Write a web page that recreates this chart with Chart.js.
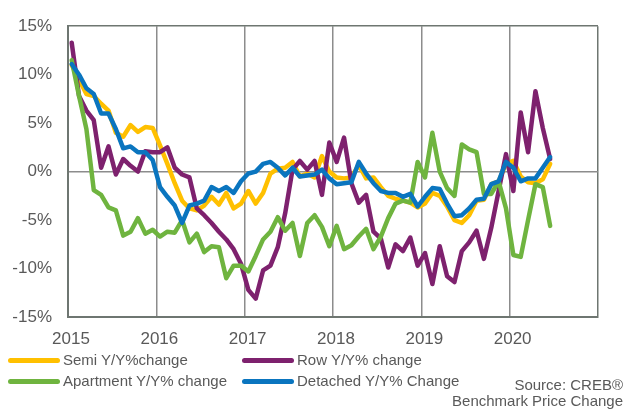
<!DOCTYPE html>
<html>
<head>
<meta charset="utf-8">
<script src="https://cdn.jsdelivr.net/npm/chart.js@4.4.1/dist/chart.umd.min.js"></script>
<style>
  body { margin: 0; background: #fff; }
  #wrap { position: relative; width: 627px; height: 411px; font-family: "Liberation Sans", Arial, sans-serif; color: #595959; }
  #wrap canvas { position: absolute; left: 0; top: 0; }
  .key { position: absolute; font-size: 15px; line-height: 18px; white-space: nowrap; }
  .key i { position: absolute; left: -55px; top: 7px; width: 52px; height: 5px; border-radius: 3px; }
  .source { position: absolute; right: 4px; top: 377px; font-size: 15px; line-height: 16px; text-align: right; }
</style>
</head>
<body>
<div id="wrap">
  <canvas id="chart" width="627" height="411"></canvas>
  <div id="legend"></div>
  <div class="source">Source: CREB®<br>Benchmark Price Change</div>
</div>
<script>
// monthly Y/Y % change, Jan 2015 .. Jun 2020
const yearLabels = ['2015', '2016', '2017', '2018', '2019', '2020']

const semi = [
  11.0, 9.5, 8.0, 7.8, 7.0, 6.3, 4.0, 3.6, 4.8, 4.1, 4.6, 4.5,
  2.7, 0.8, -1.2, -3.0, -3.8, -4.0, -3.5, -2.6, -3.4, -2.2, -3.8, -3.3,
  -2.0, -3.3, -2.2, -0.2, 0.3, 0.4, 1.0, -0.5, -0.2, -0.6, 1.6, 0.0,
  -0.6, -0.7, -0.6, 0.7, -0.7, -0.6, -1.6, -2.5, -2.8, -3.0, -3.2, -3.7,
  -3.3, -2.2, -2.5, -3.6, -5.0, -5.3, -4.5, -3.0, -2.9, -1.3, -1.0, 0.8,
  1.1, -0.5, -1.1, -1.2, -0.8, 0.8
]

const row = [
  13.3, 7.8, 6.3, 5.3, 0.4, 2.6, -0.3, 1.3, 0.6, 0.0, 2.1, 2.0,
  2.0, 2.5, 0.4, -0.3, -0.6, -3.8, -4.5, -5.3, -6.2, -7.0, -8.0, -9.5,
  -12.2, -13.1, -10.2, -9.7, -7.8, -4.3, 0.2, 1.1, 0.2, 1.1, -2.4, 3.0,
  1.0, 3.5, -1.2, -3.2, -2.4, -6.2, -6.9, -9.9, -7.5, -8.2, -6.8, -9.7,
  -8.4, -11.6, -7.7, -10.8, -11.4, -8.2, -7.3, -6.1, -9.0, -5.8, -2.0, 1.8,
  -2.0, 6.1, 2.0, 8.3, 4.5, 1.3
]

const apartment = [
  11.5, 7.8, 4.4, -1.9, -2.4, -3.7, -4.0, -6.6, -6.2, -4.8, -6.4, -6.0,
  -6.7, -6.2, -6.3, -5.0, -7.3, -6.4, -8.3, -7.7, -7.8, -11.0, -9.7, -9.7,
  -10.3, -8.7, -7.0, -6.2, -4.7, -6.1, -5.3, -8.7, -5.3, -4.5, -5.7, -7.7,
  -5.6, -8.0, -7.6, -6.7, -5.9, -8.0, -6.7, -4.8, -3.3, -3.0, -3.2, 1.0,
  -0.6, 4.0, 0.0, -1.7, -2.5, 2.8, 2.3, 2.0, -2.3, -2.3, -1.0, -3.8,
  -8.6, -8.8, -5.0, -1.3, -1.6, -5.6
]

const detached = [
  11.1, 10.0, 8.6, 8.0, 6.0, 6.0, 4.4, 2.4, 2.6, 2.0, 2.0, 1.2,
  -1.6, -2.6, -3.5, -5.3, -3.5, -3.3, -3.0, -1.6, -2.0, -1.6, -2.2, -1.0,
  -0.2, 0.0, 0.8, 1.0, 0.4, -0.4, 0.4, -0.5, -0.4, -0.3, 0.2, -0.7,
  -1.3, -1.2, -1.1, 1.0, -0.2, -1.2, -2.0, -2.2, -2.2, -2.6, -2.3, -3.6,
  -2.6, -1.7, -1.8, -3.3, -4.6, -4.5, -3.8, -2.9, -2.8, -1.3, -1.0, 1.0,
  0.4, -1.0, -0.7, -0.7, 0.4, 1.5
]

const series = [
  { name: 'Semi Y/Y%change', values: semi, color: '#FFC000', order: 3 },
  { name: 'Row Y/Y% change', values: row, color: '#7E216E', order: 2 },
  { name: 'Apartment Y/Y% change', values: apartment, color: '#6FB43F', order: 1 },
  { name: 'Detached Y/Y% Change', values: detached, color: '#0A75BF', order: 0 }
]

const edgeColor = '#6e7671'
const gridColor = '#8c8c8c'
const textColor = '#595959'

// points sit mid-month on a month axis, 12 per year
const toPoints = vals => vals.map((v, i) => ({ x: i + 0.5, y: v }))

Chart.defaults.font.family = '"Liberation Sans", Arial, sans-serif'

new Chart(document.getElementById('chart'), {
  type: 'line',
  data: {
    datasets: series.map(s => ({
      label: s.name,
      data: toPoints(s.values),
      borderColor: s.color,
      backgroundColor: s.color,
      borderWidth: 4.5,
      borderJoinStyle: 'round',
      borderCapStyle: 'round',
      pointRadius: 0,
      tension: 0,
      order: s.order
    }))
  },
  options: {
    responsive: false,
    animation: false,
    devicePixelRatio: 1,
    layout: { padding: { top: 16, right: 29, left: 0, bottom: 0 } },
    plugins: {
      legend: { display: false },
      tooltip: { enabled: false }
    },
    scales: {
      x: {
        type: 'linear',
        min: 0,
        max: 72,
        ticks: {
          stepSize: 12,
          autoSkip: false,
          maxRotation: 0,
          padding: 12,
          labelOffset: 3,
          color: textColor,
          font: { size: 17 },
          callback: v => yearLabels[v / 12] ?? ''
        },
        grid: {
          drawTicks: false,
          lineWidth: 1.5,
          color: ctx => (ctx.tick && (ctx.tick.value === 0 || ctx.tick.value === 72)) ? edgeColor : gridColor
        },
        border: { color: edgeColor, width: 2 },
        afterFit: s => { s.height = 94 }
      },
      y: {
        min: -15,
        max: 15,
        ticks: {
          stepSize: 5,
          padding: 16,
          color: textColor,
          font: { size: 17 },
          callback: v => v + '%'
        },
        grid: {
          drawTicks: false,
          lineWidth: 1.5,
          color: ctx => {
            if (!ctx.tick) return 'transparent'
            if (ctx.tick.value === 0) return gridColor
            if (Math.abs(ctx.tick.value) === 15) return edgeColor
            return 'transparent'
          }
        },
        border: { color: edgeColor, width: 2 },
        afterFit: s => { s.width = 68 }
      }
    }
  }
})

// two-column key under the plot
const keySpots = [[63, 351], [297, 351], [63, 372], [297, 372]]
const legend = document.getElementById('legend')
series.forEach((s, i) => {
  const el = document.createElement('div')
  el.className = 'key'
  el.style.left = keySpots[i][0] + 'px'
  el.style.top = keySpots[i][1] + 'px'
  el.innerHTML = '<i style="background:' + s.color + '"></i>' + s.name
  legend.appendChild(el)
})
</script>
</body>
</html>
